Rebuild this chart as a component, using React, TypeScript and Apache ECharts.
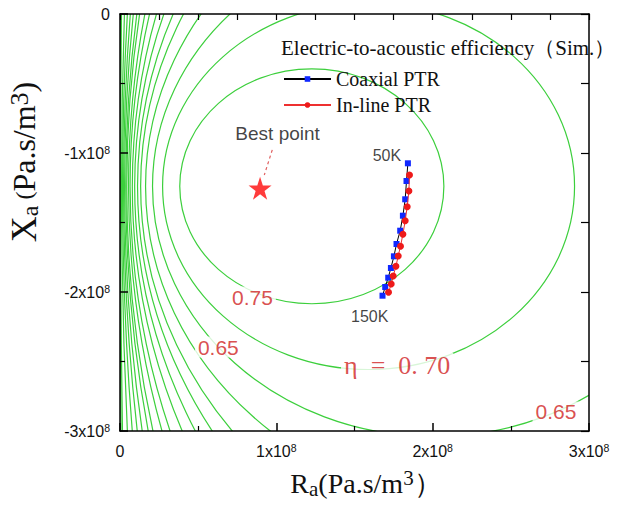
import { useEffect, useRef } from 'react';
import * as echarts from 'echarts';

const E8 = 1e8;

// Efficiency contours (circles in data units, x1e8): centre Ra, common centre Xa, radius
const contourCenterRa = [300, 121.6, 40.6, 24.4, 17.45, 13.6, 10.77, 9.19, 7.3, 6.19, 5.07, 4.27, 3.586, 3.065, 2.503, 2.008, 1.59, 1.227];
const contourRadius = [299.9987, 121.5967, 40.5902, 24.3838, 17.4273, 13.5708, 10.7332, 9.1468, 7.2455, 6.1257, 4.9913, 4.1762, 3.4738, 2.933, 2.3395, 1.8, 1.3176, 0.8447];
const contourCenterXa = -1.24;

// Coaxial PTR (x1e8)
const coaxialRa = [1.8415, 1.8326, 1.8243, 1.8096, 1.7923, 1.7687, 1.7521, 1.7329, 1.7157, 1.6965, 1.6792];
const coaxialXa = [-1.0741, -1.2014, -1.3331, -1.4511, -1.559, -1.6547, -1.7432, -1.8273, -1.8971, -1.964, -2.0266];

// In-line PTR (x1e8)
const inlineRa = [1.8518, 1.8479, 1.8371, 1.8243, 1.8096, 1.7942, 1.7796, 1.7649, 1.7476, 1.7348, 1.7176];
const inlineXa = [-1.1583, -1.2734, -1.3863, -1.4871, -1.5849, -1.6712, -1.741, -1.8151, -1.8849, -1.9424, -2.0022];

// Best point
const bestRa = 0.896;
const bestXa = -1.254;
const leaderRa = [0.974, 0.923];
const leaderXa = [-0.978, -1.158];

// Contour labels
const contourLabels = ['0.75', '0.65', 'η  =  0. 70', '0.65'];
const contourLabelRa = [0.847, 0.629, 1.773, 2.789];
const contourLabelXa = [-2.036, -2.396, -2.532, -2.863];

// Notes
const noteLabels = ['Best point', '50K', '150K'];
const noteRa = [1.008, 1.707, 1.597];
const noteXa = [-0.863, -1.021, -2.173];

const xTickValues = [0, 1, 2, 3];
const yTickValues = [0, -1, -2, -3];

const SERIF = "'Liberation Serif', 'Times New Roman', serif";
const SANS = "'Liberation Sans', Arial, sans-serif";
const GREEN = '#3ccf3c';
const LABEL_RED = '#d02222';

const STAR = 'path://M50,0 L61.8,35.1 L98.9,35.1 L68.9,56.8 L80.3,91.9 L50,70.2 L19.7,91.9 L31.1,56.8 L1.1,35.1 L38.2,35.1 Z';

const tickRich = {
  n: { fontSize: 16, fontFamily: SANS, color: '#111', lineHeight: 18 },
  s: { fontSize: 10.5, fontFamily: SANS, color: '#111', verticalAlign: 'top', lineHeight: 10 },
};

function tickFmt(v: number) {
  const k = Math.round(v / E8);
  if (k === 0) return '{n|0}';
  return `{n|${k}x10}{s|8}`;
}

export default function App() {
  const ref = useRef<HTMLDivElement>(null);
  useEffect(() => {
    if (!ref.current) return;
    const chart = echarts.init(ref.current, null, { renderer: 'svg' });

    const contourData = contourCenterRa.map((c, i) => [c * E8, contourCenterXa * E8, contourRadius[i] * E8]);

    const option: any = {
      animation: false,
      backgroundColor: '#fff',
      grid: { left: 120, right: 41, top: 14, bottom: 75 },
      xAxis: [
        {
          type: 'value', position: 'bottom', min: 0, max: 3 * E8, interval: E8, z: 10,
          axisLine: { show: true, onZero: false, lineStyle: { color: '#000', width: 1.5 } },
          axisTick: { show: true, inside: true, length: 8, lineStyle: { color: '#000', width: 1.5 } },
          minorTick: { show: true, splitNumber: 2, length: 5, lineStyle: { color: '#000', width: 1.2 } },
          splitLine: { show: false },
          axisLabel: { margin: 11, formatter: tickFmt, rich: tickRich, customValues: xTickValues.map((v) => v * E8) },
        },
        {
          type: 'value', position: 'top', min: 0, max: 3 * E8, interval: 0.25 * E8, z: 10,
          axisLine: { show: true, onZero: false, lineStyle: { color: '#000', width: 1.5 } },
          axisTick: { show: true, inside: true, length: 6, lineStyle: { color: '#000', width: 1.2 } },
          splitLine: { show: false },
          axisLabel: { show: false },
        },
      ],
      yAxis: [
        {
          type: 'value', position: 'left', min: -3 * E8, max: 0, interval: E8, z: 10,
          axisLine: { show: true, onZero: false, lineStyle: { color: '#000', width: 1.5 } },
          axisTick: { show: true, inside: true, length: 8, lineStyle: { color: '#000', width: 1.5 } },
          minorTick: { show: true, splitNumber: 2, length: 5, lineStyle: { color: '#000', width: 1.2 } },
          splitLine: { show: false },
          axisLabel: { margin: 10, formatter: tickFmt, rich: tickRich, customValues: yTickValues.map((v) => v * E8) },
        },
        {
          type: 'value', position: 'right', min: -3 * E8, max: 0, interval: 0.5 * E8, z: 10,
          axisLine: { show: true, onZero: false, lineStyle: { color: '#000', width: 1.5 } },
          axisTick: { show: true, inside: true, length: 8, lineStyle: { color: '#000', width: 1.2 } },
          splitLine: { show: false },
          axisLabel: { show: false },
        },
      ],
      legend: {
        data: ['Coaxial PTR', 'In-line PTR'],
        orient: 'vertical',
        left: 278,
        top: 64,
        itemWidth: 47,
        itemHeight: 7,
        itemGap: 6,
        textStyle: { fontFamily: SERIF, fontSize: 20, color: '#111' },
      },
      graphic: [
        {
          type: 'text', left: 281, top: 37, z: 100,
          style: { text: 'Electric-to-acoustic efficiency（Sim.）', font: `21px ${SERIF}`, fill: '#111' },
        },
        {
          type: 'text', x: 366, y: 483, z: 100,
          style: {
            text: '{b|R}{sub|a}{b|(Pa.s/m}{sup|3}{b|）}',
            align: 'center', verticalAlign: 'middle',
            rich: {
              b: { fontFamily: SERIF, fontSize: 28, fill: '#111', lineHeight: 32 },
              sub: { fontFamily: SERIF, fontSize: 21, fill: '#111', verticalAlign: 'bottom', lineHeight: 14 },
              sup: { fontFamily: SERIF, fontSize: 21, fill: '#111', verticalAlign: 'top', lineHeight: 14 },
            },
          },
        },
        {
          type: 'text', x: 24, y: 162, rotation: Math.PI / 2, z: 100,
          style: {
            text: '{x|X}{sub|a}{p| (}{b|Pa.s/m}{sup|3}{b|)}',
            align: 'center', verticalAlign: 'middle',
            rich: {
              x: { fontFamily: SERIF, fontSize: 36, fill: '#111', lineHeight: 36 },
              b: { fontFamily: SERIF, fontSize: 32, fill: '#111', lineHeight: 36 },
              p: { fontFamily: SERIF, fontSize: 24, fill: '#111', lineHeight: 36 },
              sub: { fontFamily: SERIF, fontSize: 24, fill: '#111', verticalAlign: 'bottom', lineHeight: 16 },
              sup: { fontFamily: SERIF, fontSize: 26, fill: '#111', verticalAlign: 'top', lineHeight: 16 },
            },
          },
        },
      ],
      series: [
        {
          type: 'custom',
          name: 'contours',
          clip: true,
          silent: true,
          z: 1,
          data: contourData,
          renderItem: (_params: any, api: any) => {
            const c = api.coord([api.value(0), api.value(1)]);
            const r = api.value(2);
            const s = api.size([2 * r, 2 * r], [api.value(0), api.value(1)]);
            return {
              type: 'ellipse',
              shape: { cx: c[0], cy: c[1], rx: s[0] / 2, ry: s[1] / 2 },
              style: { fill: 'none', stroke: GREEN, lineWidth: 1.2 },
            };
          },
        },
        {
          type: 'line',
          name: 'leader',
          data: leaderRa.map((x, i) => [x * E8, leaderXa[i] * E8]),
          symbol: 'none',
          lineStyle: { color: '#e06060', width: 1.2, type: [3, 3] },
          z: 3,
          silent: true,
        },
        {
          type: 'line',
          name: 'Coaxial PTR',
          data: coaxialRa.map((x, i) => [x * E8, coaxialXa[i] * E8]),
          symbol: 'rect',
          symbolSize: 6,
          itemStyle: { color: '#1028ff' },
          lineStyle: { color: '#000', width: 1 },
          z: 4,
        },
        {
          type: 'line',
          name: 'In-line PTR',
          data: inlineRa.map((x, i) => [x * E8, inlineXa[i] * E8]),
          symbol: 'circle',
          symbolSize: 7,
          itemStyle: { color: '#ee1a1a' },
          lineStyle: { color: '#ee3030', width: 1 },
          z: 5,
        },
        {
          type: 'scatter',
          name: 'best',
          data: [[bestRa * E8, bestXa * E8]],
          symbol: STAR,
          symbolSize: 23,
          itemStyle: { color: '#ff0a0a' },
          z: 6,
        },
        {
          type: 'scatter',
          name: 'contourLabels',
          symbolSize: 1,
          itemStyle: { color: 'rgba(0,0,0,0)' },
          z: 7,
          silent: true,
          data: contourLabels.map((t, i) => ({
            value: [contourLabelRa[i] * E8, contourLabelXa[i] * E8],
            label: {
              show: true,
              position: 'inside',
              formatter: t,
              color: LABEL_RED,
              fontFamily: t.startsWith('η') ? SERIF : SANS,
              fontSize: t.startsWith('η') ? 26 : 21,
              backgroundColor: '#fff',
              padding: [0, 3],
            },
          })),
        },
        {
          type: 'scatter',
          name: 'notes',
          symbolSize: 1,
          itemStyle: { color: 'rgba(0,0,0,0)' },
          z: 7,
          silent: true,
          data: noteLabels.map((t, i) => ({
            value: [noteRa[i] * E8, noteXa[i] * E8],
            label: {
              show: true,
              position: 'inside',
              formatter: t,
              color: '#111',
              fontFamily: SANS,
              fontSize: i === 0 ? 19 : 16,
            },
          })),
        },
      ],
    };
    chart.setOption(option);
    return () => chart.dispose();
  }, []);
  return <div ref={ref} style={{ position: 'fixed', left: 0, top: 0, width: 630, height: 506, background: '#fff' }} />;
}
